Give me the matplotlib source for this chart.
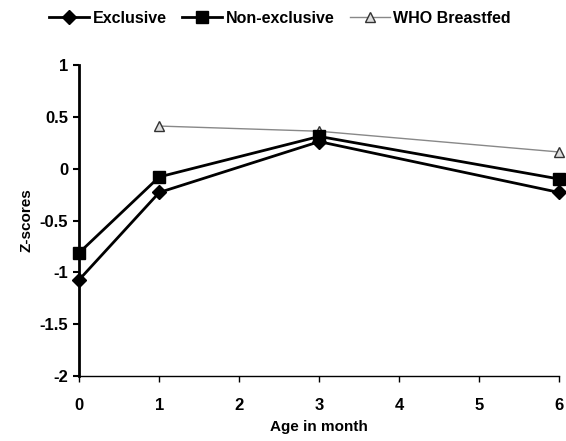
import numpy as np
import matplotlib.pyplot as plt

plt.rcParams['font.family'] = ['Liberation Sans', 'DejaVu Sans']
plt.rcParams['font.weight'] = 'bold'

# datos
meses_excl = [0, 1, 3, 6]
excl = [-1.07, -0.23, 0.26, -0.23]
meses_noexcl = [0, 1, 3, 6]
noexcl = [-0.81, -0.08, 0.31, -0.10]
meses_who = [1, 3, 6]
who = [0.41, 0.36, 0.16]

fig = plt.figure(figsize=(5.66, 4.41), dpi=100)
ax = fig.add_axes([0.140, 0.147, 0.848, 0.706])

ax.plot(meses_excl, excl, color='black', linewidth=2, marker='D', markersize=7,
        label='Exclusive', clip_on=False, zorder=3)
ax.plot(meses_noexcl, noexcl, color='black', linewidth=2, marker='s', markersize=8.5,
        label='Non-exclusive', clip_on=False, zorder=3)
ax.plot(meses_who, who, color='#888888', linewidth=1, marker='^', markersize=7.5,
        markerfacecolor='#dddddd', markeredgecolor='#333333',
        label='WHO Breastfed', clip_on=False, zorder=2)

ax.set_xlim(0, 6)
ax.set_ylim(-2, 1)
ax.set_xticks(range(0, 7))
ax.set_yticks([-2, -1.5, -1, -0.5, 0, 0.5, 1])
ax.set_yticklabels(['-2', '-1.5', '-1', '-0.5', '0', '0.5', '1'])
ax.tick_params(axis='y', labelsize=12, width=1.5, length=4, direction='out', pad=4)
ax.tick_params(axis='x', labelsize=12, width=1, length=4, direction='out', pad=12)
ax.spines['top'].set_visible(False)
ax.spines['right'].set_visible(False)
ax.spines['left'].set_linewidth(2)
ax.spines['bottom'].set_linewidth(1)

ax.set_xlabel('Age in month', fontsize=11, fontweight='bold', labelpad=5)
ax.set_ylabel('Z-scores', fontsize=11, fontweight='bold', labelpad=4)

fig.legend(loc='center', bbox_to_anchor=(0.495, 0.959), ncol=3, frameon=False,
           fontsize=11.5, handlelength=2.5, columnspacing=1.0, handletextpad=0.2)

fig.savefig('out.png', dpi=100)
